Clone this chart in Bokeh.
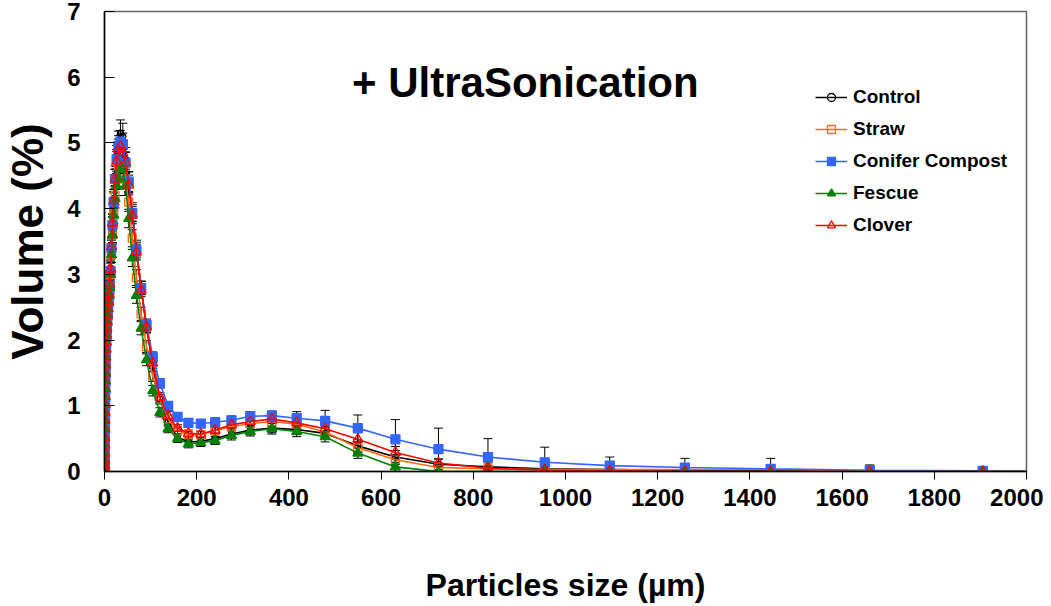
from bokeh.plotting import figure
from bokeh.models import (Range1d, Label, Legend, LegendItem, Whisker, TeeHead,
                          ColumnDataSource, FixedTicker)
from bokeh.embed import file_html
from bokeh.resources import INLINE

# particle size bins (µm)
sizes = [0.316, 0.363, 0.417, 0.479, 0.550, 0.631, 0.724, 0.832, 0.955,
         1.096, 1.259, 1.445, 1.660, 1.905, 2.188, 2.512, 2.884, 3.311, 3.802, 4.365, 5.012, 5.754, 6.607, 7.586, 8.710,
         10.00, 11.48, 13.18, 15.14, 17.38, 19.95, 22.91, 26.30, 30.20, 34.67, 39.81, 45.71, 52.48, 60.26, 69.18, 79.43, 91.20,
         104.7, 120.2, 138.0, 158.5, 182.0, 208.9, 239.9, 275.4, 316.2, 363.1, 416.9, 478.6, 549.5, 631.0, 724.4, 831.8, 955.0,
         1096, 1259, 1445, 1660, 1905]
size_end = 2000
tail_value = 0.0

control = [0.02, 0.05, 0.10, 0.18, 0.28, 0.40, 0.52, 0.65, 0.78,
           0.90, 1.02, 1.14, 1.26, 1.38, 1.50, 1.62, 1.74, 1.86, 1.97, 2.08, 2.18, 2.28, 2.38, 2.48, 2.58,
           2.70, 2.85, 3.10, 3.45, 3.80, 4.15, 4.50, 4.80, 5.00, 5.15, 5.10, 4.75, 4.40, 3.95, 3.40, 2.80, 2.20,
           1.60, 1.10, 0.75, 0.52, 0.45, 0.46, 0.50, 0.57, 0.63, 0.66, 0.64, 0.58, 0.39, 0.22, 0.11, 0.07, 0.04,
           0.03, 0.02, 0.01, 0.01, 0.00]
straw = [0.02, 0.05, 0.09, 0.16, 0.25, 0.36, 0.48, 0.60, 0.72,
         0.84, 0.96, 1.08, 1.20, 1.32, 1.44, 1.56, 1.68, 1.80, 1.92, 2.03, 2.14, 2.24, 2.34, 2.44, 2.54,
         2.65, 2.80, 3.00, 3.30, 3.60, 3.90, 4.20, 4.45, 4.65, 4.75, 4.70, 4.45, 4.10, 3.55, 2.95, 2.40, 1.90,
         1.45, 1.10, 0.80, 0.62, 0.56, 0.56, 0.62, 0.68, 0.73, 0.76, 0.72, 0.60, 0.36, 0.18, 0.06, 0.04, 0.03,
         0.03, 0.03, 0.03, 0.01, 0.00]
conifer = [0.02, 0.05, 0.10, 0.18, 0.28, 0.40, 0.52, 0.65, 0.78,
           0.90, 1.02, 1.14, 1.26, 1.38, 1.50, 1.62, 1.74, 1.86, 1.97, 2.08, 2.18, 2.28, 2.38, 2.48, 2.58,
           2.68, 2.82, 3.05, 3.40, 3.75, 4.10, 4.45, 4.75, 4.95, 5.02, 4.98, 4.70, 4.41, 3.93, 3.37, 2.79, 2.23,
           1.74, 1.34, 1.00, 0.83, 0.74, 0.73, 0.75, 0.78, 0.84, 0.85, 0.81, 0.77, 0.66, 0.49, 0.34, 0.22, 0.14,
           0.09, 0.06, 0.04, 0.02, 0.01]
fescue = [0.02, 0.05, 0.10, 0.18, 0.28, 0.40, 0.52, 0.65, 0.78,
          0.90, 1.02, 1.14, 1.26, 1.38, 1.50, 1.62, 1.74, 1.86, 1.97, 2.08, 2.18, 2.28, 2.38, 2.48, 2.58,
          2.68, 2.80, 3.00, 3.30, 3.60, 3.90, 4.15, 4.35, 4.45, 4.60, 4.60, 4.35, 3.85, 3.25, 2.68, 2.18, 1.70,
          1.23, 0.90, 0.65, 0.50, 0.42, 0.44, 0.47, 0.55, 0.61, 0.65, 0.61, 0.53, 0.28, 0.07, 0.00, 0.00, 0.00,
          0.00, 0.00, 0.00, 0.00, 0.00]
clover = [0.02, 0.05, 0.10, 0.18, 0.28, 0.40, 0.52, 0.65, 0.78,
          0.90, 1.02, 1.14, 1.26, 1.38, 1.50, 1.62, 1.74, 1.86, 1.97, 2.08, 2.18, 2.28, 2.38, 2.48, 2.58,
          2.70, 2.85, 3.08, 3.42, 3.78, 4.12, 4.45, 4.72, 4.90, 4.95, 4.85, 4.70, 4.36, 3.90, 3.34, 2.76, 2.20,
          1.65, 1.13, 0.85, 0.66, 0.58, 0.57, 0.63, 0.71, 0.76, 0.80, 0.74, 0.65, 0.49, 0.29, 0.13, 0.05, 0.02,
          0.01, 0.00, 0.00, 0.00, 0.00]

err_control = [0.01, 0.01, 0.02, 0.02, 0.03, 0.03, 0.03, 0.04, 0.04,
               0.04, 0.05, 0.05, 0.05, 0.06, 0.06, 0.06, 0.07, 0.07, 0.08, 0.08, 0.08, 0.09, 0.09, 0.10, 0.10,
               0.10, 0.11, 0.12, 0.12, 0.13, 0.14, 0.15, 0.16, 0.18, 0.20, 0.20, 0.18, 0.16, 0.14, 0.12, 0.10, 0.09,
               0.08, 0.07, 0.06, 0.05, 0.05, 0.05, 0.06, 0.06, 0.07, 0.07, 0.08, 0.09, 0.10, 0.10, 0.08, 0.06, 0.04,
               0.03, 0.03, 0.02, 0.02, 0.01]
err_straw = [0.01, 0.01, 0.02, 0.02, 0.02, 0.03, 0.03, 0.03, 0.04,
             0.04, 0.04, 0.05, 0.05, 0.05, 0.06, 0.06, 0.06, 0.07, 0.07, 0.07, 0.08, 0.08, 0.09, 0.09, 0.10,
             0.10, 0.10, 0.11, 0.12, 0.12, 0.13, 0.14, 0.15, 0.15, 0.16, 0.16, 0.15, 0.14, 0.13, 0.12, 0.10, 0.09,
             0.08, 0.07, 0.06, 0.05, 0.05, 0.05, 0.05, 0.06, 0.06, 0.07, 0.07, 0.08, 0.08, 0.07, 0.05, 0.04, 0.03,
             0.03, 0.03, 0.03, 0.02, 0.01]
err_conifer = [0.01, 0.01, 0.02, 0.02, 0.03, 0.03, 0.03, 0.04, 0.04,
               0.04, 0.05, 0.05, 0.05, 0.06, 0.06, 0.06, 0.07, 0.07, 0.08, 0.08, 0.08, 0.09, 0.09, 0.10, 0.10,
               0.10, 0.11, 0.12, 0.12, 0.13, 0.14, 0.15, 0.15, 0.16, 0.17, 0.17, 0.16, 0.15, 0.13, 0.12, 0.10, 0.09,
               0.08, 0.07, 0.06, 0.05, 0.05, 0.05, 0.06, 0.06, 0.07, 0.07, 0.10, 0.16, 0.20, 0.30, 0.32, 0.28, 0.23,
               0.13, 0.14, 0.16, 0.08, 0.03]
err_fescue = [0.01, 0.01, 0.02, 0.02, 0.02, 0.03, 0.03, 0.03, 0.04,
              0.04, 0.04, 0.05, 0.05, 0.05, 0.06, 0.06, 0.06, 0.07, 0.07, 0.07, 0.08, 0.08, 0.09, 0.09, 0.10,
              0.10, 0.10, 0.11, 0.12, 0.12, 0.13, 0.14, 0.15, 0.15, 0.16, 0.16, 0.15, 0.14, 0.13, 0.12, 0.10, 0.09,
              0.08, 0.07, 0.06, 0.06, 0.06, 0.06, 0.06, 0.07, 0.07, 0.08, 0.08, 0.08, 0.08, 0.07, 0.02, 0.01, 0.01,
              0.01, 0.01, 0.01, 0.01, 0.01]
err_clover = [0.01, 0.01, 0.02, 0.02, 0.03, 0.03, 0.03, 0.04, 0.04,
              0.04, 0.05, 0.05, 0.05, 0.06, 0.06, 0.06, 0.07, 0.07, 0.08, 0.08, 0.08, 0.09, 0.09, 0.10, 0.10,
              0.10, 0.11, 0.12, 0.12, 0.13, 0.14, 0.15, 0.15, 0.16, 0.17, 0.17, 0.16, 0.15, 0.13, 0.12, 0.10, 0.09,
              0.08, 0.07, 0.06, 0.05, 0.05, 0.05, 0.06, 0.06, 0.07, 0.07, 0.08, 0.09, 0.10, 0.09, 0.06, 0.04, 0.02,
              0.02, 0.01, 0.01, 0.01, 0.01]

series_names = ["Control", "Straw", "Conifer Compost", "Fescue", "Clover"]
series_vals = [control, straw, conifer, fescue, clover]
series_errs = [err_control, err_straw, err_conifer, err_fescue, err_clover]
colors = ["#000000", "#FF6A10", "#3366FF", "#008000", "#FF0000"]
markers = ["circle", "square", "square", "triangle", "triangle"]
marker_sizes = [6, 8, 9, 10, 10]
filled = [False, False, True, True, False]

x_ticks = [0, 200, 400, 600, 800, 1000, 1200, 1400, 1600, 1800, 2000]
y_ticks = [0, 1, 2, 3, 4, 5, 6, 7]

FONT = "Liberation Sans"

p = figure(width=1043, height=606, output_backend="svg", toolbar_location=None,
           x_range=Range1d(0, 2000), y_range=Range1d(0, 7),
           min_border_left=104, min_border_right=17, min_border_top=11, min_border_bottom=135)
p.grid.visible = False
p.outline_line_color = "#666666"
p.outline_line_width = 1.5
p.background_fill_color = "white"
p.border_fill_color = "white"

p.xaxis.ticker = FixedTicker(ticks=x_ticks)
p.yaxis.ticker = FixedTicker(ticks=y_ticks)
for ax in (p.xaxis, p.yaxis):
    ax.axis_line_color = "black"
    ax.axis_line_width = 1.5
    ax.major_tick_line_color = "black"
    ax.major_tick_line_width = 1
    ax.minor_tick_line_color = None
    ax.major_label_text_font = FONT
    ax.major_label_text_font_style = "bold"
    ax.major_label_text_font_size = "24px"
    ax.major_label_text_color = "black"
    ax.axis_label_text_font = FONT
    ax.axis_label_text_font_style = "bold"
    ax.axis_label_text_color = "black"

p.xaxis.major_tick_in = 0
p.xaxis.major_tick_out = 8
p.xaxis.major_label_standoff = 9
p.xaxis.axis_label = "Particles size (µm)"
p.xaxis.axis_label_text_font_size = "32px"
p.xaxis.axis_label_standoff = 58

p.yaxis.major_tick_in = 10
p.yaxis.major_tick_out = 0
p.yaxis.major_label_standoff = 24
p.yaxis.axis_label = "Volume (%)"
p.yaxis.axis_label_text_font_size = "44px"
p.yaxis.axis_label_standoff = 12

items = []
for name, vals, errs, col, mk, ms, fl in zip(series_names, series_vals, series_errs,
                                              colors, markers, marker_sizes, filled):
    src = ColumnDataSource(dict(x=sizes, y=vals,
                                up=[v + e for v, e in zip(vals, errs)],
                                lo=[v - e for v, e in zip(vals, errs)]))
    w = Whisker(base="x", upper="up", lower="lo", source=src, dimension="height",
                line_color="black", line_width=1,
                upper_head=TeeHead(size=9, line_color="black", line_width=1),
                lower_head=TeeHead(size=9, line_color="black", line_width=1))
    p.add_layout(w)
    items.append((name, src, col, mk, ms, fl))

legend_items = []
for name, src, col, mk, ms, fl in items:
    line_src = ColumnDataSource(dict(x=sizes + [size_end], y=src.data["y"] + [tail_value]))
    ln = p.line("x", "y", source=line_src, line_color=col, line_width=1.6)
    sc = p.scatter("x", "y", source=src, marker=mk, size=ms,
                   line_color=col, line_width=1.3,
                   fill_color=col if fl else None)
    legend_items.append(LegendItem(label=name, renderers=[ln, sc]))

legend = Legend(items=legend_items, location=(711, 235),
                label_text_font=FONT, label_text_font_style="bold",
                label_text_font_size="19px", label_text_color="black",
                glyph_width=32, glyph_height=20, label_height=20,
                spacing=10, padding=0, margin=0, label_standoff=6,
                border_line_color=None, background_fill_alpha=0)
p.add_layout(legend)

p.add_layout(Label(x=537, y=5.92, text="+ UltraSonication", text_font=FONT,
                   text_font_style="bold", text_font_size="42px",
                   text_baseline="middle", text_align="left", text_color="black"))

open("out.html", "w").write(file_html(p, INLINE))
